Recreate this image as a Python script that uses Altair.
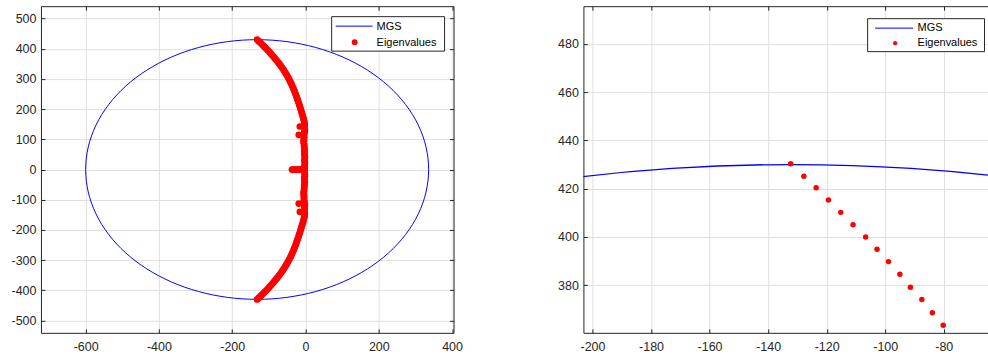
import altair as alt
import pandas as pd

# ---- MGS stability boundary (ellipse), sampled every 5 degrees ----
mgs_re = [336.0, 334.2, 328.9, 320.1, 307.8, 292.2, 273.3, 251.4, 226.5, 198.9,
          168.8, 136.4, 102.0, 65.8, 28.1, -10.9, -50.7, -91.2, -132.0, -172.8,
          -213.3, -253.1, -292.1, -329.8, -366.0, -400.4, -432.8, -462.9, -490.5, -515.4,
          -537.3, -556.2, -571.8, -584.1, -592.9, -598.2, -600.0, -598.2, -592.9, -584.1,
          -571.8, -556.2, -537.3, -515.4, -490.5, -462.9, -432.8, -400.4, -366.0, -329.8,
          -292.1, -253.1, -213.3, -172.8, -132.0, -91.2, -50.7, -10.9, 28.1, 65.8,
          102.0, 136.4, 168.8, 198.9, 226.5, 251.4, 273.3, 292.2, 307.8, 320.1,
          328.9, 334.2]
mgs_im = [0.0, 37.5, 74.7, 111.3, 147.1, 181.7, 215.0, 246.6, 276.4, 304.1,
          329.4, 352.2, 372.4, 389.7, 404.1, 415.3, 423.5, 428.4, 430.0, 428.4,
          423.5, 415.3, 404.1, 389.7, 372.4, 352.2, 329.4, 304.1, 276.4, 246.6,
          215.0, 181.7, 147.1, 111.3, 74.7, 37.5, 0.0, -37.5, -74.7, -111.3,
          -147.1, -181.7, -215.0, -246.6, -276.4, -304.1, -329.4, -352.2, -372.4, -389.7,
          -404.1, -415.3, -423.5, -428.4, -430.0, -428.4, -423.5, -415.3, -404.1, -389.7,
          -372.4, -352.2, -329.4, -304.1, -276.4, -246.6, -215.0, -181.7, -147.1, -111.3,
          -74.7, -37.5]

# ---- eigenvalues: outer arcs ----
arc_re = [-132.3, -127.8, -123.6, -119.4, -115.2, -111.0, -106.7, -102.8, -98.9, -95.0,
          -91.4, -87.5, -83.9, -80.2, -76.8, -73.5, -70.3, -67.2, -64.2, -61.3,
          -58.5, -55.8, -53.2, -50.7, -48.3, -46.0, -43.8, -41.7, -39.6, -37.6,
          -35.7, -33.9, -32.1, -30.4, -28.7, -27.1, -25.6, -24.1, -22.6, -21.1,
          -19.7, -18.3, -16.9, -15.5, -14.2, -12.9, -11.6, -10.3, -9.0, -7.8,
          -6.6, -5.4, -4.2, -3.0]
arc_im_up = [430.3, 425.2, 420.4, 415.3, 410.2, 405.1, 400.0, 394.9, 389.8, 384.6,
             379.2, 374.1, 368.6, 363.4, 358.2, 353.1, 347.9, 342.8, 337.6, 332.5,
             327.3, 322.2, 317.0, 311.9, 306.7, 301.6, 296.4, 291.3, 286.1, 281.0,
             275.8, 270.7, 265.5, 260.4, 255.2, 250.1, 244.9, 239.8, 234.6, 229.5,
             224.3, 219.2, 214.0, 208.9, 203.7, 198.6, 193.4, 188.3, 183.1, 178.0,
             172.8, 167.7, 162.5, 157.4]
arc_im_lo = [-430.3, -425.2, -420.4, -415.3, -410.2, -405.1, -400.0, -394.9, -389.8, -384.6,
             -379.2, -374.1, -368.6, -363.4, -358.2, -353.1, -347.9, -342.8, -337.6, -332.5,
             -327.3, -322.2, -317.0, -311.9, -306.7, -301.6, -296.4, -291.3, -286.1, -281.0,
             -275.8, -270.7, -265.5, -260.4, -255.2, -250.1, -244.9, -239.8, -234.6, -229.5,
             -224.3, -219.2, -214.0, -208.9, -203.7, -198.6, -193.4, -188.3, -183.1, -178.0,
             -172.8, -167.7, -162.5, -157.4]

# ---- eigenvalues near the imaginary axis ----
axis_re = [-2.5, -3.0, -2.0, -3.5, -1.5, -2.0, -3.0, -4.0, -4.5, -3.5,
           -5.0, -4.0, -5.5, -4.5, -3.5, -4.0, -3.0, -2.5, -3.5, -2.0,
           -3.0, -2.5, -1.5, -2.0, -3.0, -2.5, -1.5, -2.0, -3.0, -2.0,
           -2.5, -2.0, -3.0, -2.5, -1.5, -2.0, -3.5, -2.5, -3.0, -2.0,
           -2.5, -3.5, -3.0, -4.0, -3.5, -4.5, -5.5, -4.0, -5.0, -3.5,
           -4.5, -4.0, -3.0, -2.0, -1.5, -3.5, -2.0, -3.0, -2.5, -3.5,
           -2.0, -2.5]
axis_im = [152, 147, 142, 137, 132, 127, 122, 117, 112, 107,
           102, 97, 92, 87, 82, 77, 72, 67, 62, 57,
           52, 47, 42, 37, 32, 27, 22, 17, 12, 7,
           2, -2, -7, -12, -17, -22, -27, -32, -37, -42,
           -47, -52, -57, -62, -67, -72, -77, -82, -87, -92,
           -97, -102, -107, -112, -117, -122, -127, -132, -137, -142,
           -147, -152]

# ---- real eigenvalues and the few scattered ones ----
real_re = [-37, -34, -31, -28, -25, -22, -19, -16, -13, -10, -7, -4]
real_im = [0, 0, 0, 0, 0, 0, 0, 0, 0, 0, 0, 0]
stray_re = [-15.5, -18.5, -18.5, -15.5]
stray_im = [142.5, 115.0, -113.0, -140.0]

mgs = pd.DataFrame({"re": mgs_re, "im": mgs_im, "k": list(range(len(mgs_re)))})
eig = pd.DataFrame({
    "re": arc_re + arc_re + axis_re + real_re + stray_re,
    "im": arc_im_up + arc_im_lo + axis_im + real_im + stray_im,
})

INK = "#262626"
FONT = "Liberation Sans"
one_row = alt.Data(values=[{}])


def panel(xdom, ydom, xticks, yticks, w, h, dot, line_w, leg, right_edge):
    xs = alt.Scale(domain=xdom, nice=False, zero=False)
    ys = alt.Scale(domain=ydom, nice=False, zero=False)
    lab = "'' + datum.value"

    def ax(orient, vals, **kw):
        return alt.Axis(orient=orient, values=vals, title=None, labelFlush=False,
                        labelOverlap=False, **kw)

    # main axes: labels, grid, left/bottom box edges
    curve = alt.Chart(mgs).mark_line(
        color="#0000ff", strokeWidth=line_w, interpolate="cardinal-closed", clip=True
    ).encode(
        x=alt.X("re:Q", scale=xs, axis=ax("bottom", xticks, grid=True, ticks=False,
                                           domain=True, labelPadding=8, labelExpr=lab)),
        y=alt.Y("im:Q", scale=ys, axis=ax("left", yticks, grid=True, ticks=False,
                                           domain=True, labelPadding=5, labelExpr=lab)),
        order="k:Q",
    )
    # top / right box edges
    pts = alt.Chart(eig).mark_circle(color="#ff0000", size=dot, opacity=1, clip=True).encode(
        x=alt.X("re:Q", scale=xs, axis=ax("top", xticks, grid=False, ticks=False,
                                           labels=False, domain=True)),
        y=alt.Y("im:Q", scale=ys,
                axis=ax("right", yticks, grid=False, ticks=False, labels=False, domain=True)
                if right_edge else None),
    )
    # inward tick marks (carried by invisible, clipped copies of the curve)
    tk = dict(grid=False, labels=False, domain=False, ticks=True, tickSize=4, offset=-4)
    ticks_a = alt.Chart(mgs).mark_point(opacity=0, clip=True).encode(
        x=alt.X("re:Q", scale=xs, axis=ax("bottom", xticks, **tk)),
        y=alt.Y("im:Q", scale=ys, axis=ax("left", yticks, **tk)),
    )
    ticks_b = alt.Chart(mgs).mark_point(opacity=0, clip=True).encode(
        x=alt.X("re:Q", scale=xs, axis=ax("top", xticks, **tk)),
        y=alt.Y("im:Q", scale=ys, axis=ax("right", yticks, **tk) if right_edge else None),
    )

    bx0, bx1, by0, by1, lx0, lx1, ly, dx, dy, tx, ty1, ty2, dsize = leg
    box = alt.Chart(one_row).mark_rect(fill="white", stroke=INK, strokeWidth=1).encode(
        x=alt.value(bx0), x2=alt.value(bx1), y=alt.value(by0), y2=alt.value(by1))
    key_line = alt.Chart(one_row).mark_rule(color="#0000ff", strokeWidth=1).encode(
        x=alt.value(lx0), x2=alt.value(lx1), y=alt.value(ly))
    key_dot = alt.Chart(one_row).mark_circle(color="#ff0000", size=dsize, opacity=1).encode(
        x=alt.value(dx), y=alt.value(dy))
    txt = dict(align="left", baseline="middle", font=FONT, fontSize=11, color="#000000")
    t1 = alt.Chart(one_row).mark_text(**txt).encode(
        x=alt.value(tx), y=alt.value(ty1), text=alt.value("MGS"))
    t2 = alt.Chart(one_row).mark_text(**txt).encode(
        x=alt.value(tx), y=alt.value(ty2), text=alt.value("Eigenvalues"))

    return alt.layer(curve, pts, ticks_a, ticks_b, box, key_line, key_dot, t1, t2).resolve_axis(
        x="independent", y="independent"
    ).properties(width=w, height=h)


left = panel([-722, 404], [-541, 541],
             [-600, -400, -200, 0, 200, 400],
             [-500, -400, -300, -200, -100, 0, 100, 200, 300, 400, 500],
             413, 327, 45, 1.0,
             (291, 404, 10.5, 45, 295, 332, 20, 314, 36, 336, 20.7, 36.7, 34),
             True)
right = panel([-203.1, -64.9], [360.3, 495.6],
              [-200, -180, -160, -140, -120, -100, -80],
              [380, 400, 420, 440, 460, 480],
              405, 327, 30, 1.3,
              (284.5, 401.5, 12.5, 45.5, 292, 330, 22, 312, 37, 334.5, 22.3, 37, 18),
              False)

chart = alt.hconcat(left, right, spacing=130, bounds="flush").properties(
    padding={"left": 10, "top": 5, "right": 0, "bottom": 0},
    background="white",
).configure_view(strokeWidth=0).configure_axis(
    labelFont=FONT, labelFontSize=12.5, labelColor=INK,
    domainColor=INK, domainWidth=1, tickColor=INK, tickWidth=1,
    gridColor="#dfdfdf", gridWidth=1,
)

chart.save("out.html", embed_options={"renderer": "svg", "actions": False})
